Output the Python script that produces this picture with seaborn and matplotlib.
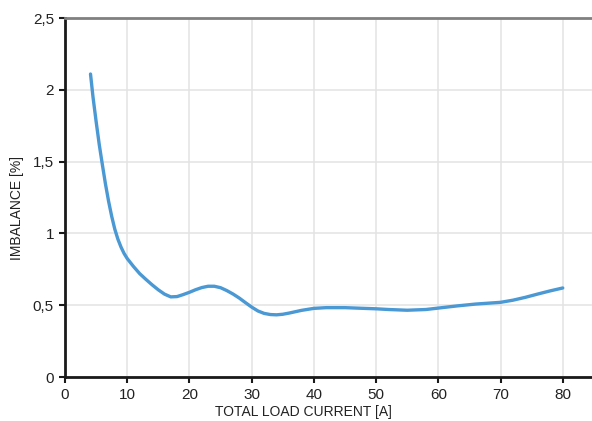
import numpy as np
import pandas as pd
import seaborn as sns
import matplotlib
matplotlib.use("Agg")
import matplotlib.pyplot as plt
from matplotlib.ticker import FuncFormatter, MultipleLocator

# values
load_current = [4.1, 4.5, 5, 5.5, 6, 6.5, 7, 7.5, 8, 8.5, 9, 9.5, 10, 11, 12,
                13, 14, 15, 16, 17, 18, 19, 20, 21, 22, 23, 24, 25, 26, 27, 28,
                29, 30, 31, 32, 33, 34, 35, 36, 38, 40, 42, 45, 48, 50, 52, 55,
                58, 60, 63, 66, 70, 72, 74, 76, 78, 80]
imbalance = [2.11, 1.95, 1.78, 1.62, 1.48, 1.345, 1.225, 1.12, 1.03, 0.96,
             0.905, 0.86, 0.825, 0.77, 0.72, 0.68, 0.642, 0.607, 0.577, 0.558,
             0.56, 0.574, 0.59, 0.608, 0.623, 0.632, 0.632, 0.622, 0.602,
             0.578, 0.55, 0.518, 0.487, 0.46, 0.443, 0.435, 0.433, 0.437,
             0.445, 0.464, 0.478, 0.483, 0.483, 0.478, 0.475, 0.47, 0.465,
             0.47, 0.48, 0.495, 0.508, 0.52, 0.535, 0.555, 0.578, 0.6, 0.62]

df = pd.DataFrame({"current": load_current, "imbalance": imbalance})

sns.set_style("white")
plt.rcParams['font.family'] = ['Liberation Sans Narrow', 'Liberation Sans', 'DejaVu Sans']

fig = plt.figure(figsize=(5.92, 4.21), dpi=100)
ax = fig.add_axes([0.1098, 0.1045, 0.8902, 0.8527])

sns.lineplot(x="current", y="imbalance", data=df, color="#4a98d4",
             linewidth=2.4, ax=ax)

ax.set_xlim(0, 84.7)
ax.set_ylim(0, 2.5)
ax.xaxis.set_major_locator(MultipleLocator(10))
ax.yaxis.set_major_locator(MultipleLocator(0.5))
ax.yaxis.set_major_formatter(FuncFormatter(lambda v, p: f"{v:g}".replace(".", ",")))

ax.grid(True, color="#e3e3e3", linewidth=1.1)
ax.set_axisbelow(True)

for side in ["left", "bottom"]:
    ax.spines[side].set_color("#1a1a1a")
    ax.spines[side].set_linewidth(2)
ax.spines["top"].set_color("#808080")
ax.spines["top"].set_linewidth(2)
ax.spines["right"].set_visible(False)

ax.tick_params(axis="both", which="major", direction="out", length=4, width=1.5,
               color="#1a1a1a", labelsize=11, labelcolor="#222222", pad=4,
               left=True, bottom=True)

ax.set_xlabel("TOTAL LOAD CURRENT [A]", fontsize=10, color="#222222")
ax.set_ylabel("IMBALANCE [%]", fontsize=10, color="#222222")
ax.xaxis.set_label_coords(0.452, -0.078)
ax.yaxis.set_label_coords(-0.078, 0.472)

plt.savefig("out.png", dpi=100)
